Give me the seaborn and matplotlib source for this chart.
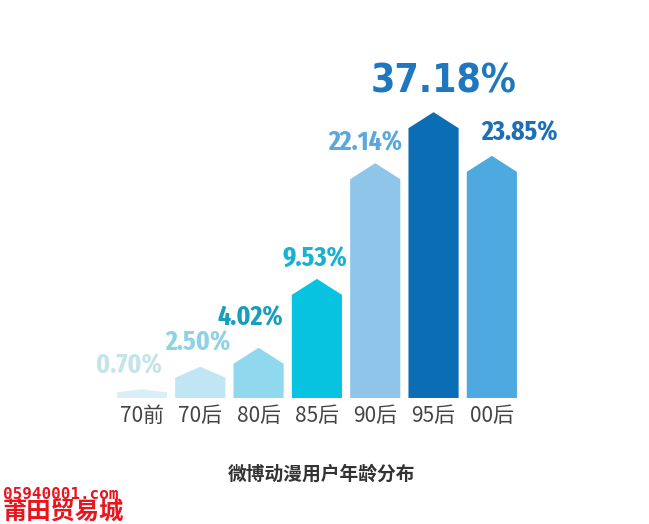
import os
import matplotlib
matplotlib.use('Agg')
import matplotlib.pyplot as plt
import seaborn as sns
import pandas as pd
import numpy as np
from matplotlib.patches import Polygon
from matplotlib import font_manager as fm

# ---- data ----
categories = ['70前', '70后', '80后', '85后', '90后', '95后', '00后']
values = [0.70, 2.50, 4.02, 9.53, 22.14, 37.18, 23.85]
value_labels = ['0.70%', '2.50%', '4.02%', '9.53%', '22.14%', '37.18%', '23.85%']
title = '微博动漫用户年龄分布'
watermark_url = '05940001.com'
watermark_name = '莆田贸易城'

# ---- style ----
bar_colors = ['#d9eff6', '#bfe6f2', '#90d8ee', '#08c3e0', '#90c5ea', '#0b6db4', '#4ea9e1']
label_colors = ['#c4e3ea', '#8fd2e5', '#1a9dbd', '#18b1d2', '#5ba8dc', '#1f77c0', '#1f6fb6']
label_dx = [-13, -2, -8, -2, -10, 10, 28]   # pixel nudges
label_dy = [16, 16, 22, 12, 13, 20, 15]


def weight_num(w):
    if isinstance(w, (int, float)):
        return w
    return {'ultralight': 200, 'light': 300, 'normal': 400, 'regular': 400, 'book': 400,
            'medium': 500, 'semibold': 600, 'demibold': 600, 'bold': 700,
            'heavy': 800, 'extra bold': 800, 'black': 900}.get(str(w).lower(), 400)


def find_font(markers):
    for mk in markers:
        cands = []
        for f in fm.fontManager.ttflist:
            key = (f.name + ' ' + os.path.basename(f.fname) + ' ' + str(f.stretch)).lower().replace('-', '').replace(' ', '')
            if mk not in key or 'italic' in key or 'oblique' in key:
                continue
            if mk == 'condensed' and ('extracondensed' in key or 'semicondensed' in key or 'ultracondensed' in key):
                continue
            w = weight_num(f.weight)
            if 'bold' in key and 'semibold' not in key and 'extrabold' not in key:
                w = max(w, 700)
            if 650 <= w <= 750:
                cands.append(f.fname)
        if cands:
            return sorted(cands)[0], mk
    return None, None


small_path, small_kind = find_font(['extracondensed', 'condensed', 'narrow', 'semicondensed'])
big_path, big_kind = find_font(['condensed', 'narrow', 'semicondensed', 'extracondensed'])


def fprops(path, size):
    if path:
        return fm.FontProperties(fname=path, size=size)
    return fm.FontProperties(family='DejaVu Sans', weight='bold', size=size * 0.75)


small_size = 20 if small_kind == 'extracondensed' else 17
big_size = 28

sns.set_theme(style='white')
plt.rcParams['font.family'] = ['Noto Sans CJK SC', 'DejaVu Sans']

fig = plt.figure(figsize=(6.49, 5.24), dpi=100)
fig.patch.set_facecolor('white')
ax = fig.add_axes([0.1738, 0.2405, 0.629, 0.645])
ax.set_facecolor('white')

df = pd.DataFrame({'cat': categories, 'val': values})
sns.barplot(data=df, x='cat', y='val', hue='cat', palette=bar_colors,
            width=0.86, legend=False, ax=ax, saturation=1, errorbar=None)

# compressed (symmetric-log) value axis, as in the infographic
ax.set_yscale('symlog', base=np.e, linthresh=16.45, linscale=1.321)
ax.set_ylim(0, 63.2)
ax.set_xlim(-0.5, 6.5)

# turn rectangles into "house" shapes with a pointed roof
bars = list(ax.patches)
inv = ax.transData.inverted()
for p in bars:
    x0, w, h = p.get_x(), p.get_width(), p.get_height()
    (xl, yb), (xr, yt) = ax.transData.transform([(x0, 0), (x0 + w, h)])
    roof = min(16, 0.35 * (yt - yb))
    xc = (xl + xr) / 2
    pts = inv.transform([(xl, yb), (xr, yb), (xr, yt - roof), (xc, yt), (xl, yt - roof)])
    poly = Polygon(pts, closed=True, facecolor=p.get_facecolor(), edgecolor='none')
    ax.add_patch(poly)
    p.set_visible(False)

for i, (v, lab) in enumerate(zip(values, value_labels)):
    big = (i == 5)
    fp = fprops(big_path if big else small_path, big_size if big else small_size)
    ax.annotate(lab, xy=(i, v), xytext=(label_dx[i], label_dy[i]), textcoords='offset pixels',
                ha='center', va='baseline', fontproperties=fp, color=label_colors[i])

for s in ax.spines.values():
    s.set_visible(False)
ax.set_yticks([])
ax.set_yticks([], minor=True)
ax.set_xlabel('')
ax.set_ylabel('')
ax.tick_params(axis='x', length=0, pad=5, labelsize=15, labelcolor='#444444')

fig.text(0.495, 0.0954, title, ha='center', va='center', fontsize=13.5,
         fontweight='bold', color='#333333')
fig.text(0.005, 0.0485, watermark_url, ha='left', va='baseline', fontsize=11.5,
         fontweight='bold', color='#e8141e', family=['DejaVu Sans Mono'])
fig.text(0.004, 0.008, watermark_name, ha='left', va='baseline', fontsize=17.5,
         fontweight='bold', color='#e8141e')

fig.savefig('out.png', dpi=100, facecolor='white')
